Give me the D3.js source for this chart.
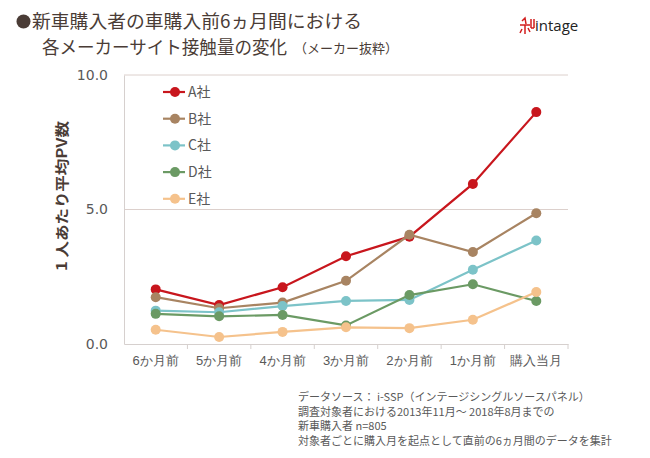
<!DOCTYPE html>
<html>
<head>
<meta charset="utf-8">
<script src="https://cdn.jsdelivr.net/npm/d3@7"></script>
<style>
  body { margin: 0; background: #fff; }
  svg { display: block; }
</style>
</head>
<body>
<div id="chart"></div>
<script>
// data
var months = ['6か月前', '5か月前', '4か月前', '3か月前', '2か月前', '1か月前', '購入当月'];
var seriesNames = ['A社', 'B社', 'C社', 'D社', 'E社'];
var aValues = [2.03, 1.45, 2.11, 3.26, 3.99, 5.95, 8.62];
var bValues = [1.74, 1.33, 1.54, 2.35, 4.06, 3.42, 4.86];
var cValues = [1.24, 1.18, 1.41, 1.60, 1.64, 2.76, 3.85];
var dValues = [1.12, 1.03, 1.08, 0.69, 1.82, 2.22, 1.60];
var eValues = [0.53, 0.26, 0.45, 0.62, 0.59, 0.90, 1.93];
var yTicks = [0, 5, 10];
var notes = [
  'データソース： i-SSP（インテージシングルソースパネル）',
  '調査対象者における2013年11月～ 2018年8月までの',
  '新車購入者  n=805',
  '対象者ごとに購入月を起点として直前の6ヵ月間のデータを集計'
];

var colors = ['#c8161d', '#a88462', '#7cc3c8', '#6b9a64', '#f5c28c'];
var allValues = [aValues, bValues, cValues, dValues, eValues];

var W = 650, H = 458;
var margin = {top: 75, right: 82, bottom: 114, left: 124};
var width = W - margin.left - margin.right,
    height = H - margin.top - margin.bottom;

var svg = d3.select('#chart').append('svg')
  .attr('width', W)
  .attr('height', H)
  .style('font-family', '"Noto Sans CJK JP", "DejaVu Sans", sans-serif');

// title
var titleColor = '#4a3c36';
svg.append('circle')
  .attr('cx', 23.5).attr('cy', 21.5).attr('r', 7)
  .attr('fill', titleColor);
svg.append('text')
  .attr('x', 32).attr('y', 28)
  .attr('font-size', 18)
  .attr('textLength', 330)
  .attr('lengthAdjust', 'spacingAndGlyphs')
  .attr('fill', titleColor)
  .text('新車購入者の車購入前6ヵ月間における');
svg.append('text')
  .attr('x', 42).attr('y', 54)
  .attr('font-size', 18)
  .attr('textLength', 245)
  .attr('lengthAdjust', 'spacingAndGlyphs')
  .attr('fill', titleColor)
  .text('各メーカーサイト接触量の変化');
svg.append('text')
  .attr('x', 294).attr('y', 53)
  .attr('font-size', 13)
  .attr('fill', titleColor)
  .text('（メーカー抜粋）');

// logo
var logo = svg.append('g').attr('transform', 'translate(520,18)');
logo.append('path')
  .attr('d', 'M2,3 L5,0 L6,6 M0,7 L10,7 M5,7 L5,16 M2,11 L0,15 M8,10 L10,14 M11,1 L11,10 M14,1 L14,10 M11,10 L14,10')
  .attr('stroke', '#d21e1e').attr('stroke-width', 1.5).attr('fill', 'none');
svg.append('text')
  .attr('x', 535).attr('y', 31)
  .attr('font-size', 15)
  .attr('font-family', '"Open Sans", sans-serif')
  .attr('fill', '#222')
  .text('intage');

var g = svg.append('g')
  .attr('transform', 'translate(' + margin.left + ',' + margin.top + ')');

var xScale = d3.scaleBand()
  .domain(months)
  .range([0, width]);

var yScale = d3.scaleLinear()
  .domain([0, 10])
  .range([height, 0]);

// gridlines
g.selectAll('.grid').data(yTicks.filter(function(d) { return d > 0; }))
  .enter().append('line')
  .attr('x1', 0).attr('x2', width)
  .attr('y1', function(d) { return yScale(d); })
  .attr('y2', function(d) { return yScale(d); })
  .attr('stroke', '#dcd0cc')
  .attr('stroke-width', 1);

// y axis
var yAxis = d3.axisLeft(yScale)
  .tickValues(yTicks)
  .tickFormat(d3.format('.1f'))
  .tickSize(0)
  .tickPadding(16);
var yG = g.append('g').call(yAxis);
yG.select('.domain').attr('stroke', '#d6d0ce');
yG.selectAll('text')
  .attr('font-size', 14)
  .attr('font-family', '"DejaVu Sans", sans-serif')
  .attr('fill', '#595959');

// x axis
var xAxis = d3.axisBottom(xScale)
  .tickSize(0)
  .tickPadding(12);
var xG = g.append('g')
  .attr('transform', 'translate(0,' + height + ')')
  .call(xAxis);
xG.select('.domain').attr('stroke', '#d6d0ce');
xG.selectAll('text')
  .attr('font-size', 13)
  .attr('fill', '#595959');
// tick marks at band boundaries
var bounds = months.map(function(m) { return xScale(m) + xScale.bandwidth(); });
xG.selectAll('.bt').data(bounds)
  .enter().append('line')
  .attr('x1', function(d) { return d; })
  .attr('x2', function(d) { return d; })
  .attr('y1', 0).attr('y2', 5)
  .attr('stroke', '#d6d0ce');

// y axis title
svg.append('text')
  .attr('transform', 'translate(67,196) rotate(-90)')
  .attr('text-anchor', 'middle')
  .attr('font-size', 14)
  .attr('font-weight', 'bold')
  .attr('textLength', 150)
  .attr('lengthAdjust', 'spacingAndGlyphs')
  .attr('fill', titleColor)
  .text('1 人あたり平均PV数');

// lines
var line = d3.line()
  .x(function(d, i) { return xScale(months[i]) + xScale.bandwidth() / 2; })
  .y(function(d) { return yScale(d); });

allValues.forEach(function(vals, k) {
  var s = g.append('g');
  s.append('path')
    .datum(vals)
    .attr('d', line)
    .attr('fill', 'none')
    .attr('stroke', colors[k])
    .attr('stroke-width', 2.2);
  s.selectAll('circle').data(vals)
    .enter().append('circle')
    .attr('cx', function(d, i) { return xScale(months[i]) + xScale.bandwidth() / 2; })
    .attr('cy', function(d) { return yScale(d); })
    .attr('r', 5)
    .attr('fill', colors[k]);
});

// legend
var legend = svg.append('g').attr('transform', 'translate(163,92)');
seriesNames.forEach(function(name, k) {
  var row = legend.append('g').attr('transform', 'translate(0,' + (k * 26.7) + ')');
  row.append('line')
    .attr('x1', 0).attr('x2', 22)
    .attr('stroke', colors[k]).attr('stroke-width', 2.2);
  row.append('circle')
    .attr('cx', 12).attr('r', 5).attr('fill', colors[k]);
  row.append('text')
    .attr('x', 25).attr('y', 5)
    .attr('font-size', 14)
    .attr('fill', '#595959')
    .text(name);
});

// footnote
svg.append('g').selectAll('text').data(notes)
  .enter().append('text')
  .attr('x', 298)
  .attr('y', function(d, i) { return 401 + i * 14.5; })
  .attr('font-size', 11)
  .attr('fill', '#595959')
  .text(function(d) { return d; });
</script>
</body>
</html>
